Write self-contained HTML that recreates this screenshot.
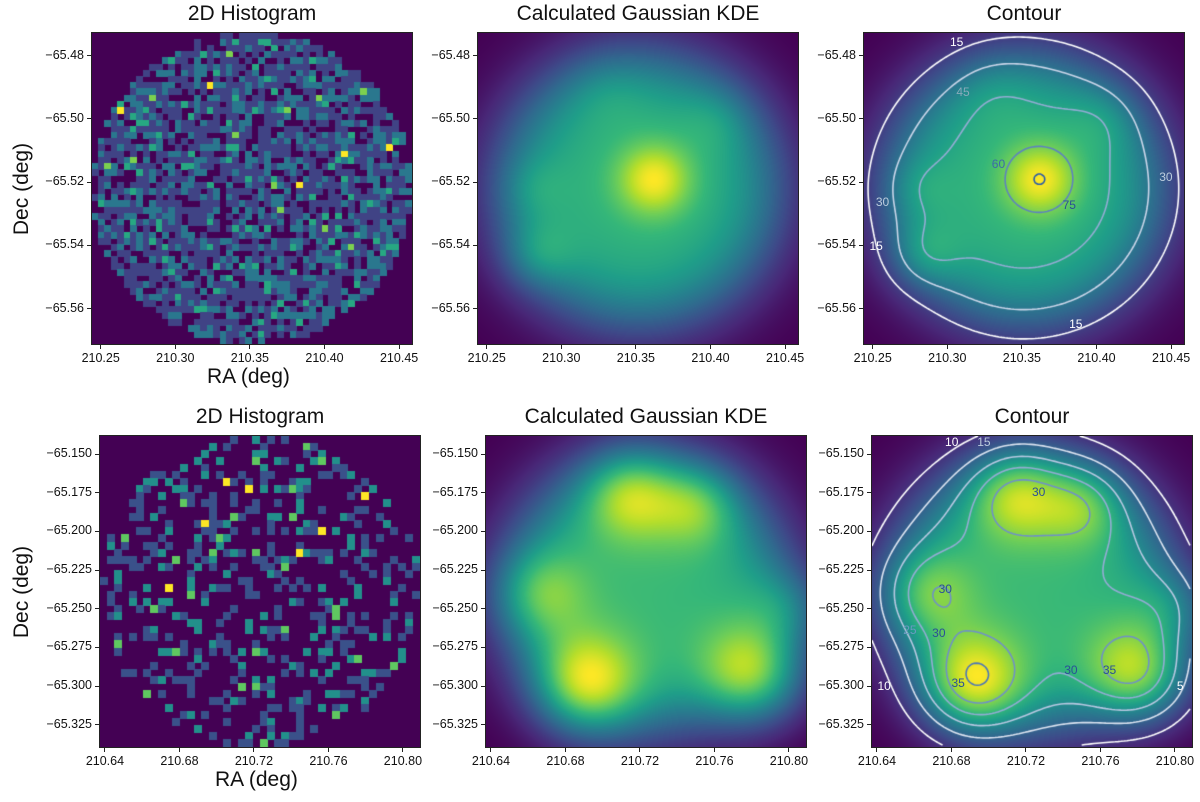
<!DOCTYPE html>
<html><head><meta charset="utf-8">
<style>
body{margin:0;background:#fff;width:1200px;height:802px;position:relative;overflow:hidden;font-family:"Liberation Sans","DejaVu Sans",sans-serif}
.panel{position:absolute;border:1px solid #222;box-sizing:border-box}
canvas{display:block}
.title{position:absolute;font-size:21px;text-align:center;width:322px;color:#111}
.tick{position:absolute;font-size:12.5px;color:#111;white-space:nowrap}
.axt{position:absolute;font-size:21px;color:#111;white-space:nowrap}
.tm{position:absolute;background:#222}
.cl{position:absolute;font-size:12px;white-space:nowrap}
</style></head><body>
<div id="root"></div>
<script>
// ---- data ----
const row1RaTicks=[210.25,210.30,210.35,210.40,210.45];
const row1DecTicks=[-65.48,-65.50,-65.52,-65.54,-65.56];
const row2RaTicks=[210.64,210.68,210.72,210.76,210.80];
const row2DecTicks=[-65.150,-65.175,-65.200,-65.225,-65.250,-65.275,-65.300,-65.325];
const row1Range=[210.2435,210.4593,-65.4725,-65.5715];
const row2Range=[210.6368,210.8097,-65.1377,-65.3400];
const row1Levels=[15,30,45,60,75];
const row2Levels=[5,10,15,20,25,30,35];
const row1PlateauAmp=50;
const row2PlateauAmp=21;
// blobs: [ra, dec, amplitude, sigma(normalized)]
const row1Blobs=[[210.362,-65.519,26,0.08],[210.283,-65.543,12,0.075],[210.28,-65.522,6,0.07],[210.405,-65.50,6,0.08],[210.33,-65.49,4,0.09]];
const row2Blobs=[[210.690,-65.300,15,0.11],[210.782,-65.293,16,0.11],[210.715,-65.175,11,0.10],[210.750,-65.182,8,0.09],[210.665,-65.240,8,0.10],[210.800,-65.250,6,0.09]];
const row1HistFill=0.72, row2HistFill=0.32;
// ---- layout ----
const cols=[[91,477,863],[99,485,871]];
const tops=[32,435]; const W=322,H=313;
const root=document.getElementById('root');
const VIR=[[68,1,84],[72,40,120],[62,74,137],[49,104,142],[38,130,142],[31,158,137],[53,183,121],[110,206,88],[181,222,43],[253,231,37]];
function vir(t){t=Math.max(0,Math.min(1,t))*(VIR.length-1);const i=Math.min(VIR.length-2,Math.floor(t)),f=t-i;const a=VIR[i],b=VIR[i+1];return [a[0]+(b[0]-a[0])*f,a[1]+(b[1]-a[1])*f,a[2]+(b[2]-a[2])*f];}
function el(tag,cls,name,inter){const e=document.createElement(tag);if(cls)e.className=cls;


return e;}
function field(u,v,range,amp,blobs){const dx=u-0.5,dy=v-0.5;const r=Math.sqrt(dx*dx+dy*dy);
let f=amp/(1+Math.exp((r-0.42)/0.075));
for(const b of blobs){const bu=(b[0]-range[0])/(range[1]-range[0]),bv=(b[1]-range[2])/(range[3]-range[2]);
const d2=(u-bu)**2+(v-bv)**2;f+=b[2]*Math.exp(-d2/(2*b[3]*b[3]));}
return f;}
function hash(i,j,s){let h=(i*374761393+j*668265263+s*1442695041)|0;h=(h^(h>>>13))*1274126177|0;return ((h^(h>>>16))>>>0)/4294967296;}
function axes(row,c,range,raT,decT,name){
 const x0=cols[row][c],y0=tops[row];
 const p=el('div','panel',name+'-plot-area',false);p.style.left=x0+'px';p.style.top=y0+'px';p.style.width=W+'px';p.style.height=H+'px';root.appendChild(p);
 const cv=document.createElement('canvas');cv.width=W-2;cv.height=H-2;p.appendChild(cv);
 const xs=v=>x0+(v-range[0])/(range[1]-range[0])*W;
 const ys=v=>y0+(v-range[2])/(range[3]-range[2])*H;
 raT.forEach(t=>{const x=xs(t);const m=el('div','tm',name+'-x-tick-mark',false);m.style.left=(x-0.5)+'px';m.style.top=(y0+H)+'px';m.style.width='1px';m.style.height='4px';root.appendChild(m);
 const l=el('div','tick',name+'-x-tick-label',false);l.textContent=t.toFixed(2);l.style.left=(x-20)+'px';l.style.width='40px';l.style.textAlign='center';l.style.top=(y0+H+6)+'px';root.appendChild(l);});
 decT.forEach(t=>{const y=ys(t);const m=el('div','tm',name+'-y-tick-mark',false);m.style.left=(x0-4)+'px';m.style.top=(y-0.5)+'px';m.style.width='4px';m.style.height='1px';root.appendChild(m);
 const l=el('div','tick',name+'-y-tick-label',false);l.textContent=(row===0?t.toFixed(2):t.toFixed(3)).replace('-','\u2212');l.style.right=(1200-x0+7)+'px';l.style.top=(y-8)+'px';root.appendChild(l);});
 return cv;}
function title(row,c,txt,name){const t=el('div','title',name,false);t.textContent=txt;t.style.left=(cols[row][c]-20)+'px';t.style.width=(W+40)+'px';t.style.top=(tops[row]-30)+'px';root.appendChild(t);}
function drawHist(cv,row,fill){const ctx=cv.getContext('2d');ctx.fillStyle='rgb(68,1,84)';ctx.fillRect(0,0,cv.width,cv.height);
 const n=row===0?50:44;const cw=cv.width/n,ch=cv.height/n;
 for(let i=0;i<n;i++)for(let j=0;j<n;j++){const u=(i+0.5)/n-0.5,v=(j+0.5)/n-0.5;if(u*u+v*v>0.5*0.5)continue;
  const h=hash(i,j,row+1);if(h>fill)continue;let k=hash(j,i,row+7);
  let cnt=row===0?(k<0.6?1:k<0.93?2:k<0.99?3:k<0.998?4:5):(k<0.65?1:k<0.95?2:k<0.985?3:4);
  const maxc=row===0?5:4;const c=vir(cnt/maxc);ctx.fillStyle=`rgb(${c[0]|0},${c[1]|0},${c[2]|0})`;
  ctx.fillRect(Math.floor(i*cw),Math.floor(j*ch),Math.ceil(cw),Math.ceil(ch));}}
function drawKDE(cv,range,amp,blobs){const ctx=cv.getContext('2d');const w=cv.width,h=cv.height;const img=ctx.createImageData(w,h);
 let mx=0;const F=new Float32Array(w*h);
 for(let y=0;y<h;y++)for(let x=0;x<w;x++){const f=field(x/w,y/h,range,amp,blobs);F[y*w+x]=f;if(f>mx)mx=f;}
 let mn=Infinity;for(const f of F)if(f<mn)mn=f;
 for(let k=0;k<w*h;k++){const c=vir((F[k]-mn)/(mx-mn));img.data[4*k]=c[0];img.data[4*k+1]=c[1];img.data[4*k+2]=c[2];img.data[4*k+3]=255;}
 ctx.putImageData(img,0,0);return {F,w,h};}
function drawContours(cv,d,levels){const ctx=cv.getContext('2d');const {F,w,h}=d;const s=3;ctx.lineWidth=1.6;
 levels.forEach((L,li)=>{const t=li/(levels.length-1);const col=[255+(40-255)*t,255+(90-255)*t,255+(170-255)*t];
 ctx.strokeStyle=`rgb(${col[0]|0},${col[1]|0},${col[2]|0})`;ctx.beginPath();
 for(let y=0;y<h-s;y+=s)for(let x=0;x<w-s;x+=s){const a=F[y*w+x],b=F[y*w+x+s],c=F[(y+s)*w+x+s],e=F[(y+s)*w+x];
  const pts=[];const ed=(p,q,x1,y1,x2,y2)=>{if((p<L)!==(q<L)){const f=(L-p)/(q-p);pts.push([x1+(x2-x1)*f,y1+(y2-y1)*f]);}};
  ed(a,b,x,y,x+s,y);ed(b,c,x+s,y,x+s,y+s);ed(c,e,x+s,y+s,x,y+s);ed(e,a,x,y+s,x,y);
  for(let k=0;k+1<pts.length;k+=2){ctx.moveTo(pts[k][0],pts[k][1]);ctx.lineTo(pts[k+1][0],pts[k+1][1]);}}
 ctx.stroke();});}
function clabel(row,c,u,v,txt,color){const l=el('div','cl','contour-label',false);l.textContent=txt;l.style.color=color;l.style.left=(cols[row][c]+u*W)+'px';l.style.top=(tops[row]+v*H)+'px';root.appendChild(l);}
const names=['histogram','kde','contour'];
[[row1Range,row1RaTicks,row1DecTicks,row1PlateauAmp,row1Blobs,row1Levels,row1HistFill],[row2Range,row2RaTicks,row2DecTicks,row2PlateauAmp,row2Blobs,row2Levels,row2HistFill]].forEach((R,row)=>{
 const ttl=['2D Histogram','Calculated Gaussian KDE','Contour'];
 for(let c=0;c<3;c++){const nm='row'+(row+1)+'-'+names[c];title(row,c,ttl[c],nm+'-title');
  const cv=axes(row,c,R[0],R[1],R[2],nm);
  if(c===0)drawHist(cv,row,R[6]);else{const d=drawKDE(cv,R[0],R[3],R[4]);if(c===2)drawContours(cv,d,R[5]);}}
 const yt=el('div','axt','row'+(row+1)+'-y-axis-title',false);yt.textContent='Dec (deg)';yt.style.left='-33px';yt.style.top=(tops[row]+H/2-12)+'px';yt.style.transform='rotate(-90deg)';yt.style.width='110px';yt.style.textAlign='center';root.appendChild(yt);
 const xt=el('div','axt','row'+(row+1)+'-x-axis-title',false);xt.textContent='RA (deg)';xt.style.left=(cols[row][0]+W/2-45)+'px';xt.style.top=(tops[row]+H+20)+'px';root.appendChild(xt);
});
clabel(0,2,0.27,0.01,'15','#fff');clabel(0,2,0.29,0.17,'45','#8ab');clabel(0,2,0.40,0.40,'60','#3d6aa8');clabel(0,2,0.62,0.53,'75','#2a4f98');clabel(0,2,0.04,0.52,'30','#bcd');clabel(0,2,0.02,0.66,'15','#fff');clabel(0,2,0.64,0.91,'15','#fff');clabel(0,2,0.92,0.44,'30','#bcd');
clabel(1,2,0.23,0.0,'10','#fff');clabel(1,2,0.33,0.0,'15','#bcd');clabel(1,2,0.50,0.16,'30','#2a4f98');clabel(1,2,0.21,0.47,'30','#2a4f98');clabel(1,2,0.19,0.61,'30','#2a4f98');clabel(1,2,0.25,0.77,'35','#2a4f98');clabel(1,2,0.72,0.73,'35','#2a4f98');clabel(1,2,0.60,0.73,'30','#2a4f98');clabel(1,2,0.1,0.6,'25','#6a9ac0');clabel(1,2,0.02,0.78,'10','#fff');clabel(1,2,0.95,0.78,'5','#fff');
</script>
</body></html>
